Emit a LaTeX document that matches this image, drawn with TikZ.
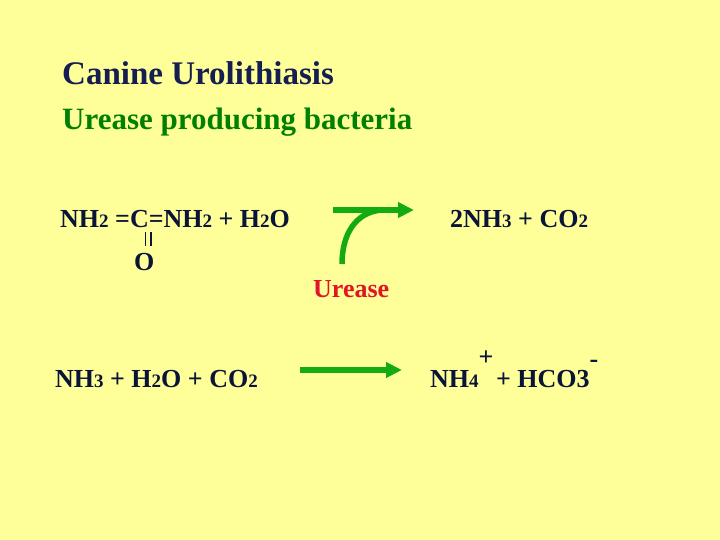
\documentclass[tikz,border=0pt]{standalone}
\usepackage{fontspec}
\usetikzlibrary{arrows.meta}
\setmainfont{Liberation Serif}
\definecolor{bg}{RGB}{255,255,153}
\definecolor{ink}{RGB}{10,20,55}
\definecolor{ttl}{RGB}{20,30,80}
\definecolor{sub}{RGB}{0,128,0}
\definecolor{enz}{RGB}{225,20,40}
\definecolor{arr}{RGB}{20,170,20}
\newcommand{\sbs}[1]{{\fontsize{19}{19}\selectfont #1}}
\begin{document}
\begin{tikzpicture}[x=1pt,y=-1pt,
  eq/.style={anchor=base west,inner sep=0pt,text=ink,font=\fontsize{26}{26}\selectfont\bfseries},
  garrow/.style={draw=arr,line width=5.5pt,-{Triangle[length=16pt,width=15pt]}}]
\fill[bg] (0,0) rectangle (720,540);
\useasboundingbox (0,0) rectangle (720,540);
\node[anchor=base west,inner sep=0pt,text=ttl,font=\fontsize{33}{33}\selectfont\bfseries] (t) at (62,85) {Canine Urolithiasis};
\node[anchor=base west,inner sep=0pt,text=sub,font=\fontsize{31}{31}\selectfont\bfseries] (s) at (62,130) {Urease producing bacteria};
\node[eq] (r1) at (60,228) {NH\sbs{2} =C=NH\sbs{2} + H\sbs{2}O};
\draw[ink,line width=1.6pt] (145.5,232) -- (145.5,246) (151,232) -- (151,246);
\node[eq] (o) at (134,270) {O};
\node[eq] (p1) at (450,228) {2NH\sbs{3} + CO\sbs{2}};
\node[anchor=base west,inner sep=0pt,text=enz,font=\fontsize{26}{26}\selectfont\bfseries] (u) at (313,297) {Urease};
\coordinate (a1s) at (333,210);
\coordinate (a1e) at (414,210);
\draw[garrow] (a1s) -- (a1e);
\coordinate (cs) at (342,264);
\coordinate (ce) at (382,210);
\draw[draw=arr,line width=5.5pt] (cs) .. controls (342,235) and (355,212) .. (ce);
\node[eq] (r2) at (55,387) {NH\sbs{3} + H\sbs{2}O + CO\sbs{2}};
\coordinate (a2s) at (300,370);
\coordinate (a2e) at (402,370);
\draw[garrow] (a2s) -- (a2e);
\node[eq] (p2) at (430,387) {NH\sbs{4}\raisebox{22pt}{+}\kern-4pt{} + HCO3\raisebox{20pt}{-}};
\end{tikzpicture}
\end{document}
